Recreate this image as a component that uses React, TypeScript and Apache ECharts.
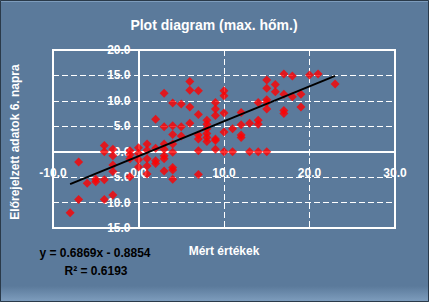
import React, { useEffect, useRef } from "react";
import * as echarts from "echarts";

// Measured values (x) and forecast values for day 6 (y)
const measured: number[] = [
  -8,
  -7, -7,
  -6,
  -5, -5,
  -4, -4, -4, -4,
  -3, -3, -3, -3, -3,
  -1, -1, -1, -1,
  0, 0, 0, 0,
  1, 1, 1, 1, 1,
  2, 2, 2, 2,
  3, 3, 3, 3, 3, 3, 3,
  4, 4, 4, 4, 4, 4, 4, 4,
  5, 5, 5,
  6, 6, 6, 6,
  7, 7, 7, 7, 7, 7,
  8, 8, 8, 8, 8, 8,
  9, 9, 9, 9, 9, 9,
  10, 10, 10, 10, 10,
  11, 11,
  12, 12, 12, 12,
  13, 13,
  14, 14, 14, 14,
  15, 15, 15, 15, 15, 15,
  16, 16,
  17, 17, 17, 17,
  18, 18,
  19, 19,
  20,
  21,
  23,
];
const forecast: number[] = [
  -12.0,
  -2.0, -9.4,
  -6.2,
  -5.4, -5.9,
  1.2, 0.0, -5.5, -9.4,
  0.5, -0.8, -2.6, -3.9, -8.5,
  0.2, -0.6, -1.4, -4.9,
  0.8, -0.3, -1.6, -3.0,
  1.5, 0.3, -1.4, -2.8, -4.4,
  6.4, 0.7, -1.8, -2.3,
  11.5, 4.9, 1.5, 0.5, -0.8, -1.4, -3.8,
  9.6, 5.1, 3.4, 1.5, -0.1, -3.1, -3.6, -5.4,
  9.4, 4.9, 3.1,
  13.8, 12.1, 8.8, 5.6,
  12.0, 7.3, 3.3, 2.5, 0.2, -4.5,
  6.2, 5.4, 4.5, 3.6, 2.8, 2.0,
  9.7, 8.4, 7.1, 2.5, 2.2, 0.5,
  12.0, 11.0, 7.6, 3.9, 0.0,
  4.5, 0.0,
  7.7, 5.3, 3.3, 2.8,
  5.6, 0.0,
  9.7, 6.2, 5.4, 0.0,
  14.1, 12.5, 10.2, 9.7, 8.4, 0.0,
  13.2, 11.8,
  15.3, 11.3, 8.1, 7.5,
  14.9, 10.8,
  11.3, 8.8,
  15.1,
  15.3,
  13.3,
];

const xMinAxis = -10;
const xMaxAxis = 30;
const xStep = 10;
const yMinAxis = -15;
const yMaxAxis = 20;
const yStep = 5;

const trendSlope = 0.6869;
const trendIntercept = -0.8854;
const trendEquation = "y = 0.6869x - 0.8854";
const rSquaredText = "R² = 0.6193";

const titleText = "Plot diagram (max. hőm.)";
const xAxisTitle = "Mért értékek";
const yAxisTitle = "Előrejelzett adatok 6. napra";

const FONT = "'Liberation Sans', Arial, Helvetica, sans-serif";
const BG = "#5B7A9B";

const GRID_LEFT = 53;
const GRID_TOP = 50;
const GRID_W = 342;
const GRID_H = 178;

export default function App() {
  const ref = useRef<HTMLDivElement>(null);

  useEffect(() => {
    if (!ref.current) return;
    const chart = echarts.init(ref.current, undefined, { renderer: "svg" });

    const points = measured.map((x, i) => [x, forecast[i]]);
    const xMin = Math.min(...measured);
    const xMax = Math.max(...measured);
    const trend = [
      [xMin, trendSlope * xMin + trendIntercept],
      [xMax, trendSlope * xMax + trendIntercept],
    ];

    // place the axes where the other axis is zero (crossing axes)
    const zeroYpx = GRID_TOP + (GRID_H * (yMaxAxis - 0)) / (yMaxAxis - yMinAxis);
    const zeroXpx = GRID_LEFT + (GRID_W * (0 - xMinAxis)) / (xMaxAxis - xMinAxis);
    const xAxisOffset = -(GRID_TOP + GRID_H - zeroYpx);
    const yAxisOffset = -(zeroXpx - GRID_LEFT);

    const fmt = (v: number) => v.toFixed(1);

    chart.setOption({
      animation: false,
      backgroundColor: BG,
      textStyle: { fontFamily: FONT },
      grid: {
        show: true,
        left: GRID_LEFT,
        top: GRID_TOP,
        width: GRID_W,
        height: GRID_H,
        borderColor: "#FFFFFF",
        borderWidth: 2,
        backgroundColor: "transparent",
      },
      xAxis: {
        type: "value",
        position: "bottom",
        min: xMinAxis,
        max: xMaxAxis,
        interval: xStep,
        offset: xAxisOffset,
        axisLine: { show: true, onZero: false, lineStyle: { color: "#FFFFFF", width: 2 } },
        axisTick: { show: true, length: 4, lineStyle: { color: "#FFFFFF" } },
        axisLabel: {
          color: "#FFFFFF",
          fontWeight: "bold",
          fontSize: 12,
          fontFamily: FONT,
          margin: 15,
          formatter: fmt,
          showMinLabel: true,
          showMaxLabel: true,
        },
        splitLine: {
          show: true,
          lineStyle: { color: "#FFFFFF", type: [6, 3], width: 1 },
        },
      },
      yAxis: {
        type: "value",
        position: "left",
        min: yMinAxis,
        max: yMaxAxis,
        interval: yStep,
        offset: yAxisOffset,
        axisLine: { show: true, onZero: false, lineStyle: { color: "#FFFFFF", width: 2 } },
        axisTick: { show: true, length: 3, lineStyle: { color: "#FFFFFF" } },
        axisLabel: {
          color: "#FFFFFF",
          fontWeight: "bold",
          fontSize: 12,
          fontFamily: FONT,
          margin: 8,
          formatter: fmt,
          showMinLabel: true,
          showMaxLabel: true,
        },
        splitLine: {
          show: true,
          lineStyle: { color: "#FFFFFF", type: [6, 3], width: 1 },
        },
      },
      series: [
        {
          type: "scatter",
          data: points,
          symbol: "diamond",
          symbolSize: 9,
          itemStyle: { color: "#FF0000" },
          z: 2,
          silent: true,
        },
        {
          type: "line",
          data: trend,
          showSymbol: false,
          symbol: "none",
          lineStyle: { color: "#000000", width: 2 },
          z: 3,
          silent: true,
        },
      ],
      graphic: [
        {
          type: "rect",
          shape: { x: 0, y: 286, width: 429, height: 15 },
          style: {
            fill: new echarts.graphic.LinearGradient(0, 0, 0, 1, [
              { offset: 0, color: BG },
              { offset: 1, color: "#7D9CBC" },
            ]),
          },
          z: -10,
          silent: true,
        },
        {
          type: "rect",
          shape: { x: 0.5, y: 0.5, width: 428, height: 301 },
          style: { fill: "transparent", stroke: "#2A3A4A", lineWidth: 1 },
          silent: true,
        },
        {
          type: "line",
          shape: { x1: 1, y1: 1.5, x2: 428, y2: 1.5 },
          style: { stroke: "#7D9CBC", lineWidth: 1 },
          silent: true,
        },
        {
          type: "text",
          x: 214,
          y: 25,
          style: {
            text: titleText,
            fill: "#FFFFFF",
            font: `bold 14px ${FONT}`,
            textAlign: "center",
            textVerticalAlign: "middle",
          },
        },
        {
          type: "text",
          x: 15,
          y: 142,
          rotation: Math.PI / 2,
          style: {
            text: yAxisTitle,
            fill: "#FFFFFF",
            font: `bold 12px ${FONT}`,
            textAlign: "center",
            textVerticalAlign: "middle",
          },
        },
        {
          type: "text",
          x: 224,
          y: 251,
          style: {
            text: xAxisTitle,
            fill: "#FFFFFF",
            font: `bold 12px ${FONT}`,
            textAlign: "center",
            textVerticalAlign: "middle",
          },
        },
        {
          type: "text",
          x: 95,
          y: 253,
          style: {
            text: trendEquation,
            fill: "#000000",
            font: `bold 12px ${FONT}`,
            textAlign: "center",
            textVerticalAlign: "middle",
          },
        },
        {
          type: "text",
          x: 96,
          y: 271,
          style: {
            text: rSquaredText,
            fill: "#000000",
            font: `bold 12px ${FONT}`,
            textAlign: "center",
            textVerticalAlign: "middle",
          },
        },
      ],
    });

    return () => chart.dispose();
  }, []);

  return (
    <div
      ref={ref}
      style={{ position: "fixed", left: 0, top: 0, width: 429, height: 302 }}
    />
  );
}
